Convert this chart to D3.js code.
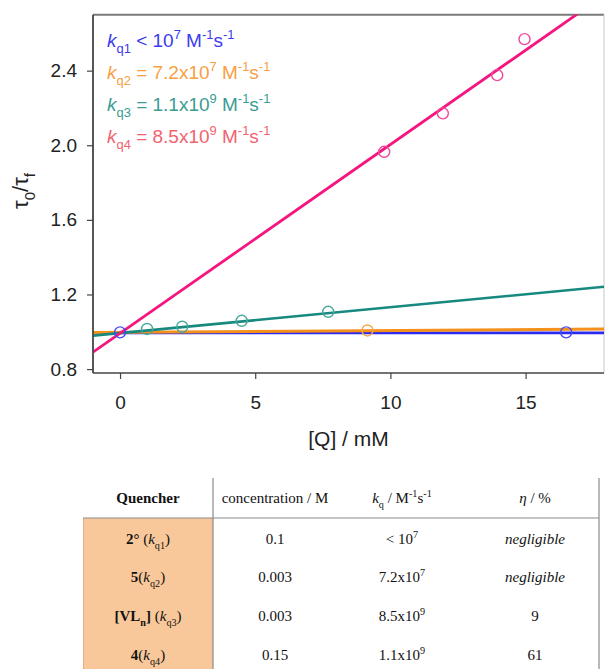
<!DOCTYPE html>
<html><head><meta charset="utf-8">
<script src="https://cdn.jsdelivr.net/npm/d3@7"></script>
<style>body{margin:0;background:#fff}svg{display:block}</style>
</head><body><svg id="c" width="606" height="669"></svg>
<script>
// ---------- data ----------
const xTicks = [0, 5, 10, 15];
const yTicks = [0.8, 1.2, 1.6, 2.0, 2.4];
const xDomain = [-1, 17.9];
const yDomain = [0.779, 2.70];

const q1X = [0, 16.5],               q1Y = [0.997, 0.997];
const q2X = [9.15],                  q2Y = [1.007];
const q3X = [1.0, 2.3, 4.5, 7.7],    q3Y = [1.015, 1.027, 1.059, 1.107];
const q4X = [9.77, 11.94, 13.95, 14.96], q4Y = [1.965, 2.171, 2.376, 2.569];

const fitIntercept = [0.994, 0.997, 0.993, 0.992];
const fitSlope     = [0.0,   0.001, 0.01386, 0.1012];

const legendSub  = ["q1", "q2", "q3", "q4"];
const legendRel  = ["< ", "= ", "= ", "= "];
const legendMant = ["10", "7.2x10", "1.1x10", "8.5x10"];
const legendExp  = ["7", "7", "9", "9"];

const tableHeaders = ["Quencher", "concentration / M", "kq / M-1s-1", "η / %"];
const quencherMain = ["2°", "5", "[VL", "4"];
const quencherSub  = ["q1", "q2", "q3", "q4"];
const concentrations = ["0.1", "0.003", "0.003", "0.15"];
const kqMant = ["< 10", "7.2x10", "8.5x10", "1.1x10"];
const kqExp  = ["7", "7", "9", "9"];
const etaValues = ["negligible", "negligible", "9", "61"];

// ---------- styles ----------
const lineColors   = ["#2a2af0", "#f5901a", "#17897f", "#f5157f"];
const circleColors = ["#4a4af2", "#f5a74a", "#48a89c", "#f04a9c"];
const legendColors = ["#3b3bef", "#f7a043", "#3a9c92", "#f26370"];

const svg = d3.select("#c");
const L = 93, R = 604, T = 14.7, B = 373;
const x = d3.scaleLinear().domain(xDomain).range([L, R]);
const y = d3.scaleLinear().domain(yDomain).range([B, T]);
const sans = "'Liberation Sans', Arial, Helvetica, sans-serif";
const serif = "'Liberation Serif', 'Times New Roman', serif";

// rich text helper
function rich(text, segs, size) {
  let cur = 0;
  segs.forEach(s => {
    const small = s.sub || s.sup;
    const fs = small ? size * 0.68 : size;
    const target = s.sub ? size * 0.32 : (s.sup ? -size * 0.42 : 0);
    const ts = text.append("tspan").attr("font-size", fs).text(s.t);
    if (target !== cur) { ts.attr("dy", target - cur); cur = target; }
    if (s.i) ts.attr("font-style", "italic");
    if (s.b) ts.attr("font-weight", "bold");
    if (s.nb) ts.attr("font-weight", "normal");
  });
}

// clip
svg.append("clipPath").attr("id", "clip").append("rect")
  .attr("x", L).attr("y", T).attr("width", R - L).attr("height", B - T);

// frame
svg.append("line").attr("x1", L).attr("x2", R).attr("y1", T).attr("y2", T).attr("stroke", "#7a7a7a").attr("stroke-width", 2);
svg.append("line").attr("x1", R).attr("x2", R).attr("y1", T).attr("y2", B).attr("stroke", "#c8c8c8").attr("stroke-width", 1);

// fit lines
const g = svg.append("g").attr("clip-path", "url(#clip)");
const widths = [2.6, 3, 2.6, 2.8];
[0, 1, 2, 3].forEach(i => {
  g.append("line")
    .attr("x1", x(xDomain[0])).attr("y1", y(fitIntercept[i] + fitSlope[i] * xDomain[0]))
    .attr("x2", x(xDomain[1])).attr("y2", y(fitIntercept[i] + fitSlope[i] * xDomain[1]))
    .attr("stroke", lineColors[i]).attr("stroke-width", widths[i]);
});

// points
const pts = [[q1X, q1Y], [q2X, q2Y], [q3X, q3Y], [q4X, q4Y]];
pts.forEach(([xs, ys], i) => {
  g.selectAll(null).data(xs).enter().append("circle")
    .attr("cx", d => x(d)).attr("cy", (d, j) => y(ys[j])).attr("r", 5.5)
    .attr("fill", "none").attr("stroke", circleColors[i]).attr("stroke-width", 1.4);
});

// axes
const yAxis = d3.axisLeft(y).tickValues(yTicks).tickFormat(d3.format(".1f")).tickSize(6).tickPadding(10);
const ya = svg.append("g").attr("transform", `translate(${L},0)`).call(yAxis);
ya.select(".domain").attr("stroke", "#444").attr("stroke-width", 1.8).attr("d", `M-6,${y(0.8)}H0V${T}`);
ya.select(".domain").attr("d", `M0,${B}V${T}`);
ya.selectAll(".tick line").attr("stroke", "#444").attr("stroke-width", 1.2);
ya.selectAll("text").attr("font-family", sans).attr("font-size", 19).attr("fill", "#222");

const xAxis = d3.axisBottom(x).tickValues(xTicks).tickFormat(d3.format("d")).tickSize(6).tickPadding(17);
const xa = svg.append("g").attr("transform", `translate(0,${B})`).call(xAxis);
xa.select(".domain").attr("stroke", "#444").attr("stroke-width", 1.6).attr("d", `M${L},0H${R}`);
xa.selectAll(".tick line").attr("stroke", "#444").attr("stroke-width", 1.2);
xa.selectAll("text").attr("font-family", sans).attr("font-size", 19).attr("fill", "#222");

// axis titles
svg.append("text").attr("x", (L + R) / 2).attr("y", 446).attr("text-anchor", "middle")
  .attr("font-family", sans).attr("font-size", 21).attr("fill", "#222").text("[Q] / mM");
const yt = svg.append("text").attr("transform", "translate(28,191) rotate(-90)").attr("text-anchor", "middle")
  .attr("font-family", sans).attr("font-size", 22).attr("fill", "#222");
rich(yt, [{t: "τ"}, {t: "0", sub: 1}, {t: "/τ"}, {t: "f", sub: 1}], 22);

// legend
const legBase = [47, 79, 111, 143];
legendSub.forEach((s, i) => {
  const t = svg.append("text").attr("x", 107).attr("y", legBase[i])
    .attr("font-family", sans).attr("font-size", 19).attr("fill", legendColors[i]);
  rich(t, [{t: "k", i: 1}, {t: s, sub: 1}, {t: " " + legendRel[i] + legendMant[i]}, {t: legendExp[i], sup: 1},
           {t: " M"}, {t: "-1", sup: 1}, {t: "s"}, {t: "-1", sup: 1}], 19);
});

// ---------- table ----------
const tTop = 478, hLine = 518, tBot = 669, tL = 83, c1 = 213, tR = 599;
const colX = [148, 275, 402, 535];
const rowBase = [544, 582, 621, 660];
svg.append("rect").attr("x", tL).attr("y", hLine).attr("width", c1 - tL).attr("height", tBot - hLine).attr("fill", "#f9c89a");
svg.append("line").attr("x1", tL + 0.5).attr("x2", tL + 0.5).attr("y1", hLine).attr("y2", tBot).attr("stroke", "#e6b080").attr("stroke-width", 1);
svg.append("line").attr("x1", tL).attr("x2", tR).attr("y1", hLine).attr("y2", hLine).attr("stroke", "#8a8a8a").attr("stroke-width", 1.2);
svg.append("line").attr("x1", c1).attr("x2", c1).attr("y1", tTop).attr("y2", tBot).attr("stroke", "#8a8a8a").attr("stroke-width", 1.2);
svg.append("line").attr("x1", tR).attr("x2", tR).attr("y1", tTop).attr("y2", tBot).attr("stroke", "#8a8a8a").attr("stroke-width", 1.2);

function cell(cx, cy) {
  return svg.append("text").attr("x", cx).attr("y", cy).attr("text-anchor", "middle")
    .attr("font-family", serif).attr("font-size", 15).attr("fill", "#111");
}
const hY = 503;
rich(cell(colX[0], hY), [{t: tableHeaders[0], b: 1}], 15);
rich(cell(colX[1], hY), [{t: tableHeaders[1]}], 15);
rich(cell(colX[2], hY), [{t: "k", i: 1}, {t: "q", sub: 1}, {t: " / M"}, {t: "-1", sup: 1}, {t: "s"}, {t: "-1", sup: 1}], 15);
rich(cell(colX[3], hY), [{t: "η", i: 1}, {t: " / %"}], 15);

quencherMain.forEach((m, i) => {
  let segs;
  if (m === "[VL") segs = [{t: "[VL", b: 1}, {t: "n", sub: 1, b: 1}, {t: "]", b: 1}, {t: " ("}, {t: "k", i: 1}, {t: quencherSub[i], sub: 1}, {t: ")"}];
  else if (m === "2°") segs = [{t: "2°", b: 1}, {t: " ("}, {t: "k", i: 1}, {t: quencherSub[i], sub: 1}, {t: ")"}];
  else segs = [{t: m, b: 1}, {t: "("}, {t: "k", i: 1}, {t: quencherSub[i], sub: 1}, {t: ")"}];
  rich(cell(colX[0], rowBase[i]), segs, 15);
  rich(cell(colX[1], rowBase[i]), [{t: concentrations[i]}], 15);
  rich(cell(colX[2], rowBase[i]), [{t: kqMant[i]}, {t: kqExp[i], sup: 1}], 15);
  const isWord = isNaN(+etaValues[i]);
  rich(cell(colX[3], rowBase[i]), [{t: etaValues[i], i: isWord ? 1 : 0}], 15);
});
</script></body></html>
